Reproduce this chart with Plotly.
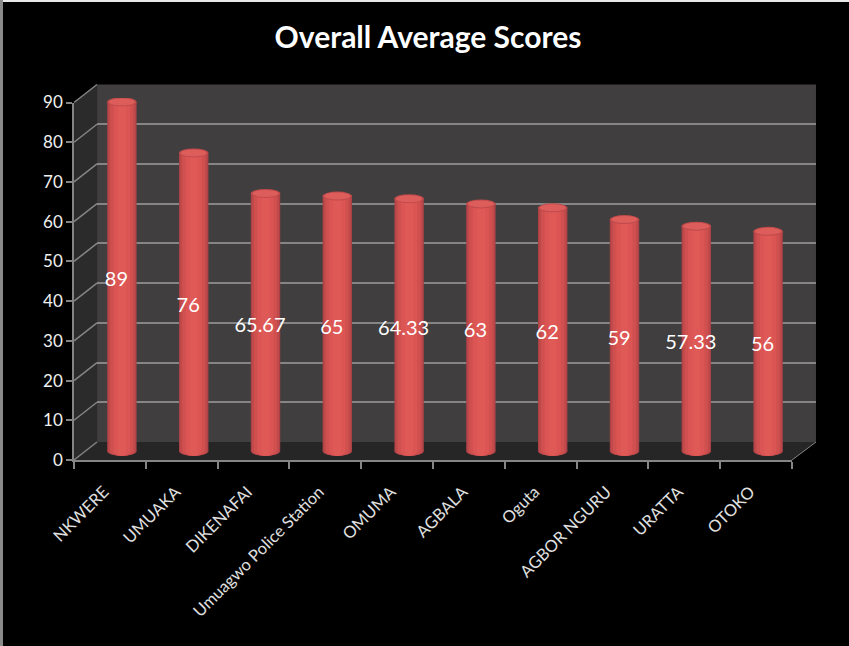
import plotly.graph_objects as go

categories = ["NKWERE", "UMUAKA", "DIKENAFAI", "Umuagwo Police Station", "OMUMA",
              "AGBALA", "Oguta", "AGBOR NGURU", "URATTA", "OTOKO"]
scores = [89, 76, 65.67, 65, 64.33, 63, 62, 59, 57.33, 56]
score_labels = ["89", "76", "65.67", "65", "64.33", "63", "62", "59", "57.33", "56"]
y_ticks = [0, 10, 20, 30, 40, 50, 60, 70, 80, 90]

W, H = 849, 646
FRONT = dict(x0=74, x1=792, y0=460, y1=102.5)
BACK = dict(x0=97, x1=816, y0=442, y1=84.5)
# bars stand halfway between the front axes and the back wall; the plane reaches
# slightly below zero so that the rounded foot of each cylinder is not clipped
UNIT = (451 - 98) / 90
Y_MIN = -3
BARS = dict(x0=86, x1=804, y0=451 - Y_MIN * UNIT, y1=98)
LABELS = dict(x0=80.5, x1=798.5, y0=456, y1=103)


def xdom(p):
    return [p["x0"] / W, p["x1"] / W]


def ydom(p):
    return [1 - p["y0"] / H, 1 - p["y1"] / H]


def px(x, y):
    return x / W, 1 - y / H


def poly(points, **kw):
    path = "M " + " L ".join(f"{a:.4f},{b:.4f}" for a, b in (px(*p) for p in points)) + " Z"
    return dict(type="path", path=path, xref="paper", yref="paper", layer="below", **kw)


def rect(x0, y0, x1, y1, color):
    a, b = px(x0, y0)
    c, d = px(x1, y1)
    return dict(type="rect", xref="paper", yref="paper", layer="below", x0=a, y0=b, x1=c, y1=d,
                fillcolor=color, line=dict(width=0))


GRID = "#858585"
WALL = "#403e3f"
shapes = [
    # thin light edge of the scanned picture
    rect(0, 0, W, 2, "#e8e8e8"),
    rect(0, 0, 3, H, "#8a8a8a"),
    # back wall, side wall, floor
    poly([(BACK["x0"], BACK["y1"]), (BACK["x1"], BACK["y1"]), (BACK["x1"], BACK["y0"]), (BACK["x0"], BACK["y0"])],
         fillcolor=WALL, line=dict(width=0)),
    poly([(FRONT["x0"], FRONT["y1"]), (BACK["x0"], BACK["y1"]), (BACK["x0"], BACK["y0"]), (FRONT["x0"], FRONT["y0"])],
         fillcolor="#2b2b2c", line=dict(width=0)),
    poly([(FRONT["x0"], FRONT["y0"]), (BACK["x0"], BACK["y0"]), (BACK["x1"], BACK["y0"]), (FRONT["x1"], FRONT["y0"])],
         fillcolor="#262627", line=dict(width=0)),
]
# oblique side-wall lines that follow the value scale
for v in y_ticks:
    fy = FRONT["y0"] + (FRONT["y1"] - FRONT["y0"]) * v / 90
    by = BACK["y0"] + (BACK["y1"] - BACK["y0"]) * v / 90
    x0, y0 = px(FRONT["x0"], fy)
    x1, y1 = px(BACK["x0"], by)
    shapes.append(dict(type="line", xref="paper", yref="paper", layer="below",
                       x0=x0, y0=y0, x1=x1, y1=y1, line=dict(color=GRID, width=1.5)))
x0, y0 = px(FRONT["x1"], FRONT["y0"])
x1, y1 = px(BACK["x1"], BACK["y0"])
shapes.append(dict(type="line", xref="paper", yref="paper", layer="below",
                   x0=x0, y0=y0, x1=x1, y1=y1, line=dict(color=GRID, width=1)))

# layered cylinder shading: relative width -> colour (widest is drawn first)
BAR_WIDTH = 0.41
shade = [(1.00, "#aa4145"), (0.92, "#c04a4b"), (0.78, "#d0504f"), (0.55, "#da5553"), (0.28, "#df5956")]

fig = go.Figure()
# carrier for the front axes
fig.add_trace(go.Scatter(x=categories, y=scores, mode="markers", marker=dict(opacity=0),
                         xaxis="x", yaxis="y", hoverinfo="skip"))
# carrier for the back-wall grid
fig.add_trace(go.Scatter(x=categories, y=scores, mode="markers", marker=dict(opacity=0),
                         xaxis="x2", yaxis="y2", hoverinfo="skip"))
for frac, color in shade:
    fig.add_trace(go.Bar(x=categories, y=scores, width=BAR_WIDTH * frac, marker=dict(color=color, line=dict(width=0)),
                         xaxis="x3", yaxis="y3", hoverinfo="skip"))
fig.add_trace(go.Scatter(x=categories, y=[s / 2 for s in scores], mode="text", text=score_labels,
                         textposition="middle center", textfont=dict(family="Lato", size=20, color="#ffffff"),
                         xaxis="x4", yaxis="y4", hoverinfo="skip"))

# cylinder ends, placed on the bars' own scales
for i, s in enumerate(scores):
    for frac, color in shade:
        hw = BAR_WIDTH * frac / 2
        shapes.append(dict(type="circle", xref="x3", yref="y3", layer="between", x0=i - hw, x1=i + hw,
                           y0=-5 / UNIT, y1=5 / UNIT, fillcolor=color, line=dict(width=0)))
    hw = BAR_WIDTH / 2
    shapes.append(dict(type="circle", xref="x3", yref="y3", layer="above", x0=i - hw, x1=i + hw,
                       y0=s - 4.5 / UNIT, y1=s + 4.5 / UNIT, fillcolor="#bf4a4b", line=dict(width=0)))
    shapes.append(dict(type="circle", xref="x3", yref="y3", layer="above", x0=i - hw * 0.88, x1=i + hw * 0.88,
                       y0=s - 3.5 / UNIT, y1=s + 3.5 / UNIT, fillcolor="#dd5d5a", line=dict(width=0)))

cat_range = [-0.5, len(categories) - 0.5]
hidden_x = dict(type="category", range=cat_range, categoryorder="array", categoryarray=categories,
                showticklabels=False, showgrid=False, zeroline=False, automargin=False)
fig.update_layout(
    width=W, height=H, margin=dict(l=0, r=0, t=0, b=0), showlegend=False,
    paper_bgcolor="#000000", plot_bgcolor="rgba(0,0,0,0)", barmode="overlay",
    font=dict(family="Lato", color="#e6e6e6"), shapes=shapes,
    title=dict(text="<b>Overall Average Scores</b>", x=428 / W, xanchor="center", y=1 - 37 / H, yanchor="middle",
               automargin=False, font=dict(family="Lato", size=30, color="#ffffff")),
    xaxis=dict(domain=xdom(FRONT), type="category", range=cat_range, categoryorder="array", categoryarray=categories,
               tickson="boundaries", ticks="outside", ticklen=7, tickcolor=GRID, tickwidth=1.5, automargin=False,
               showline=True, linecolor=GRID, linewidth=1.5, showgrid=False, zeroline=False, tickangle=-45,
               ticklabelstandoff=14, ticklabelshift=-6,
               tickfont=dict(family="Lato", size=16.5, color="#e0e0e0"), anchor="y"),
    yaxis=dict(domain=ydom(FRONT), range=[0, 90], tickvals=y_ticks, ticks="outside", ticklen=6, tickcolor=GRID,
               tickwidth=1.5, showline=True, linecolor=GRID, linewidth=1.5, showgrid=False, zeroline=False,
               automargin=False, tickfont=dict(family="Lato", size=17, color="#f0f0f0"), anchor="x"),
    xaxis2=dict(domain=xdom(BACK), anchor="y2", **hidden_x),
    yaxis2=dict(domain=ydom(BACK), range=[0, 90], tickvals=y_ticks, showticklabels=False, showgrid=True,
                gridcolor=GRID, gridwidth=1.5, zeroline=False, anchor="x2", automargin=False),
    xaxis3=dict(domain=xdom(BARS), anchor="y3", **hidden_x),
    yaxis3=dict(domain=ydom(BARS), range=[Y_MIN, 90], showticklabels=False, showgrid=False, zeroline=False,
                anchor="x3", automargin=False),
    xaxis4=dict(domain=xdom(LABELS), anchor="y4", **hidden_x),
    yaxis4=dict(domain=ydom(LABELS), range=[0, 90], showticklabels=False, showgrid=False, zeroline=False,
                anchor="x4", automargin=False),
)
fig.write_html("out.html", config={"displayModeBar": False},
               post_script="document.body.style.margin='0';document.body.style.background='#000';")
